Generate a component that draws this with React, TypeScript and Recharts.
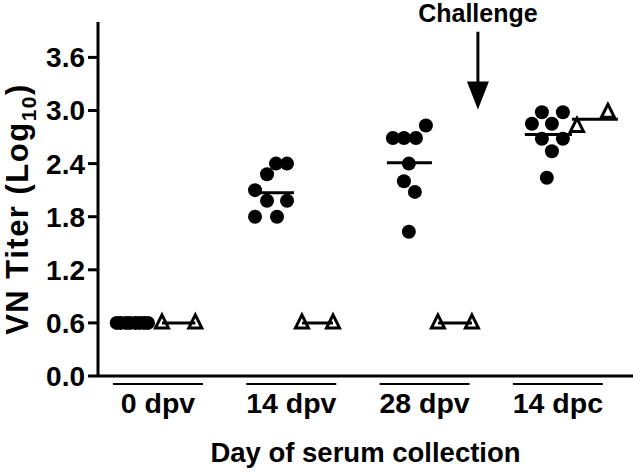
import React from 'react';
import { ComposedChart, Scatter, XAxis, YAxis, ReferenceLine } from 'recharts';

// ---- Data ----
const categories = ['0 dpv', '14 dpv', '28 dpv', '14 dpc'];
const yTicks = [0, 0.6, 1.2, 1.8, 2.4, 3.0, 3.6];

// vaccinated animals (filled circles), log10 VN titer
const vaccinated0 = [0.6, 0.6, 0.6, 0.6, 0.6, 0.6, 0.6, 0.6];
const vaccinated14 = [2.4, 2.4, 2.28, 2.1, 1.98, 1.98, 1.8, 1.8];
const vaccinated28 = [2.83, 2.69, 2.69, 2.69, 2.4, 2.2, 2.08, 1.63];
const vaccinatedDpc = [2.98, 2.98, 2.85, 2.85, 2.68, 2.68, 2.54, 2.24];
// control animals (open triangles)
const control0 = [0.6, 0.6];
const control14 = [0.6, 0.6];
const control28 = [0.6, 0.6];
const controlDpc = [2.82, 2.98];
// group means (horizontal bars)
const vaccinatedMean = [0.6, 2.07, 2.41, 2.73];
const controlMean = [0.6, 0.6, 0.6, 2.9];

// horizontal scatter (jitter) within each category, in category units
const vaccinatedJitter = [
  [-0.31, -0.28, -0.24, -0.21, -0.17, -0.14, -0.105, -0.075],
  [-0.115, -0.032, -0.182, -0.272, -0.182, -0.032, -0.272, -0.107],
  [0.01, -0.238, -0.155, -0.065, -0.118, -0.155, -0.073, -0.118],
  [-0.12, 0.0375, -0.195, -0.045, -0.12, 0.0375, -0.045, -0.083],
];
const controlJitter = [
  [0.03, 0.28],
  [0.08, 0.313],
  [0.1, 0.355],
  [0.143, 0.375],
];
const vaccinatedMeanSpan = [
  [-0.34, -0.04],
  [-0.27, 0.02],
  [-0.283, 0.055],
  [-0.248, 0.105],
];
const controlMeanSpan = [
  [0.03, 0.28],
  [0.08, 0.313],
  [0.1, 0.355],
  [0.105, 0.45],
];
const challengeX = 2.4;
const challengeY = [3.89, 3.01];

// ---- Build series ----
const vaccinatedGroups = [vaccinated0, vaccinated14, vaccinated28, vaccinatedDpc];
const controlGroups = [control0, control14, control28, controlDpc];
const vaccinatedData = vaccinatedGroups.flatMap((g, gi) =>
  g.map((v, i) => ({ x: gi + vaccinatedJitter[gi][i], y: v }))
);
const controlData = controlGroups.flatMap((g, gi) =>
  g.map((v, i) => ({ x: gi + controlJitter[gi][i], y: v }))
);

const FONT = '"Liberation Sans", Arial, Helvetica, sans-serif';

const Dot = (p: any) => <circle cx={p.cx} cy={p.cy} r={7} fill="#000" />;
const Tri = (p: any) => (
  <path
    d={`M${p.cx},${p.cy - 8} L${p.cx + 6.5},${p.cy + 5} L${p.cx - 6.5},${p.cy + 5} Z`}
    fill="none"
    stroke="#000"
    strokeWidth={3}
  />
);

const XTick = (p: any) => {
  const { x, y, payload } = p;
  const label = categories[payload.value];
  return (
    <g>
      <line x1={x - 45} x2={x + 45} y1={y + 8} y2={y + 8} stroke="#000" strokeWidth={2} />
      <text x={x} y={y + 37} textAnchor="middle" fontFamily={FONT} fontWeight="bold" fontSize={28.5} fill="#000">
        {label}
      </text>
    </g>
  );
};

const YLabel = (p: any) => {
  const vb = p.viewBox || { x: 0, y: 22, width: 98, height: 354 };
  const cx = 28;
  const cy = vb.y + vb.height / 2 + 10;
  return (
    <text
      transform={`translate(${cx}, ${cy}) rotate(-90)`}
      x={0}
      y={0}
      textAnchor="middle"
      fontFamily={FONT}
      fontWeight="bold"
      fontSize={31}
      letterSpacing={1.5}
      fill="#000"
    >
      <tspan>VN Titer (Log</tspan>
      <tspan fontSize={21} dy={8}>10</tspan>
      <tspan dy={-8}>)</tspan>
    </text>
  );
};

const Arrow = (p: any) => {
  const { x1, y1, x2, y2 } = p;
  return (
    <g>
      <line x1={x1} y1={y1} x2={x2} y2={y2 - 24} stroke="#000" strokeWidth={3} />
      <polygon points={`${x2 - 11},${y2 - 28} ${x2 + 11},${y2 - 28} ${x2},${y2}`} fill="#000" />
      <text x={x1} y={y1 - 9.5} textAnchor="middle" fontFamily={FONT} fontWeight="bold" fontSize={25} fill="#000">
        Challenge
      </text>
    </g>
  );
};

export default function App() {
  return (
    <div style={{ position: 'absolute', left: 0, top: 0, width: 633, height: 474, background: '#fff' }}>
      <ComposedChart width={633} height={474} margin={{ top: 22, right: 0, bottom: 0, left: 0 }}>
        <XAxis
          type="number"
          dataKey="x"
          domain={[-0.45, 3.5634]}
          ticks={[0, 1, 2, 3]}
          allowDataOverflow
          height={98}
          tickLine={false}
          tickSize={0}
          tickMargin={0}
          axisLine={{ stroke: '#000', strokeWidth: 3 }}
          tick={<XTick />}
          label={{
            value: 'Day of serum collection',
            position: 'insideBottom',
            offset: 12,
            style: { fontFamily: FONT, fontWeight: 'bold', fontSize: 27.5, fill: '#000' },
          }}
        />
        <YAxis
          type="number"
          dataKey="y"
          domain={[0, 4]}
          ticks={yTicks}
          allowDataOverflow
          width={98}
          tickSize={10}
          tickMargin={3}
          tickFormatter={(v: number) => v.toFixed(1)}
          tickLine={{ stroke: '#000', strokeWidth: 3 }}
          axisLine={{ stroke: '#000', strokeWidth: 3 }}
          tick={{ fontFamily: FONT, fontWeight: 'bold', fontSize: 28, fill: '#000' }}
          label={<YLabel />}
        />
        {vaccinatedMean.map((m, gi) => (
          <ReferenceLine
            key={'vm' + gi}
            segment={[
              { x: gi + vaccinatedMeanSpan[gi][0], y: m },
              { x: gi + vaccinatedMeanSpan[gi][1], y: m },
            ]}
            stroke="#000"
            strokeWidth={3}
          />
        ))}
        {controlMean.map((m, gi) => (
          <ReferenceLine
            key={'cm' + gi}
            segment={[
              { x: gi + controlMeanSpan[gi][0], y: m },
              { x: gi + controlMeanSpan[gi][1], y: m },
            ]}
            stroke="#000"
            strokeWidth={3}
          />
        ))}
        <ReferenceLine
          segment={[
            { x: challengeX, y: challengeY[0] },
            { x: challengeX, y: challengeY[1] },
          ]}
          shape={<Arrow />}
        />
        <Scatter data={vaccinatedData} shape={<Dot />} isAnimationActive={false} />
        <Scatter data={controlData} shape={<Tri />} isAnimationActive={false} />
      </ComposedChart>
    </div>
  );
}
